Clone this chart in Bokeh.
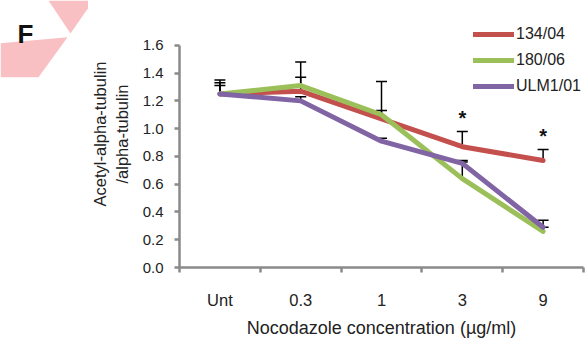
from bokeh.plotting import figure
from bokeh.layouts import row
from bokeh.models import (ColumnDataSource, FixedTicker, Whisker, TeeHead, Legend, LegendItem,
                          Range1d)
from bokeh.core.properties import value
from bokeh.embed import file_html
from bokeh.resources import INLINE

categories = ["Unt", "0.3", "1", "3", "9"]
red_134 = [1.25, 1.27, 1.07, 0.87, 0.77]
green_180 = [1.25, 1.31, 1.10, 0.64, 0.26]
purple_ulm = [1.25, 1.20, 0.91, 0.75, 0.29]
red_err = [0.10, 0.10, 0.27, 0.11, 0.08]
green_err = [0.08, 0.17, 0.03, 0.12, 0.03]
purple_err = [0.06, 0.03, 0.02, 0.02, 0.05]
star_idx = [3, 4]
y_ticks = [0, 0.2, 0.4, 0.6, 0.8, 1.0, 1.2, 1.4, 1.6]

FONT = "Liberation Sans"
RED, GREEN, PURPLE = "#c4504d", "#9bbf59", "#8064a4"
AX = "#8a8a8a"
TXT = "#222222"
PINK = "#f9c0c4"

W, H = 587, 340
SIDE_W = 88            # width of the left strip holding the panel letter
FL, FT, FB = 177, 45, 268  # y-axis x, top tick y, x-axis y on the page

# ---- left strip: panel letter and pieces of the neighbouring panel ----
# its frame is aligned with the main frame (page y 0..FB), so map page pixels onto it
side = figure(width=SIDE_W, height=H, output_backend="svg", toolbar_location=None,
              x_range=Range1d(0, SIDE_W), y_range=Range1d(FB, 0),
              min_border_left=0, min_border_right=0, min_border_top=0, min_border_bottom=H - FB,
              x_axis_location=None, y_axis_location=None)
side.outline_line_color = None
side.grid.visible = False
tri_x, tri_y = [48, 93, 70], [0, 0, 33]
quad_x, quad_y = [0, 67, 38, 0], [43, 37, 77, 77]
side.patches([tri_x, quad_x], [tri_y, quad_y], fill_color=PINK, line_color=None)
side.text([17], [34], text=["F"], text_font=value(FONT), text_font_size="26px",
          text_font_style="bold", text_baseline="alphabetic", text_color="#111111")

# ---- main chart ----
xs = [i + 0.5 for i in range(len(categories))]
y_top = y_ticks[-1] * FB / (FB - FT)   # frame reaches the top edge so the legend is not clipped

p = figure(width=W - SIDE_W, height=H, output_backend="svg", toolbar_location=None,
           x_range=Range1d(0, len(categories)), y_range=Range1d(0, y_top),
           min_border_left=FL - SIDE_W, min_border_right=4, min_border_top=0,
           min_border_bottom=H - FB)
p.outline_line_color = None
p.xgrid.visible = False
p.ygrid.visible = False

series = [("134/04", red_134, red_err, RED),
          ("180/06", green_180, green_err, GREEN),
          ("ULM1/01", purple_ulm, purple_err, PURPLE)]

for name, vals, errs, col in series:
    src = ColumnDataSource(dict(x=xs, lower=vals, upper=[v + e for v, e in zip(vals, errs)]))
    w = Whisker(base="x", upper="upper", lower="lower", source=src, line_color="black",
                line_width=1.5, upper_head=TeeHead(size=11, line_width=1.5, line_color="black"),
                lower_head=None)
    p.add_layout(w)

items = []
for name, vals, errs, col in series:
    r = p.line(xs, vals, line_color=col, line_width=5, line_join="round", line_cap="round")
    items.append(LegendItem(label=name, renderers=[r]))

star_x = [xs[i] for i in star_idx]
star_y = [red_134[i] + red_err[i] for i in star_idx]
p.text(star_x, star_y, text=["*"] * len(star_idx), text_font=value(FONT),
       text_font_size="20px", text_font_style="bold", text_align="center",
       text_baseline="middle", y_offset=-13, text_color="#111111")

legend = Legend(items=items, location=(471 - FL, FB - 97), padding=0, margin=0,
                border_line_color=None, background_fill_alpha=0,
                glyph_width=41, glyph_height=20, label_height=20, spacing=6,
                label_standoff=2, label_text_font=FONT, label_text_font_size="16px",
                label_text_color=TXT)
p.add_layout(legend, "center")

# y axis
p.yaxis.ticker = FixedTicker(ticks=y_ticks)
p.yaxis.bounds = (y_ticks[0], y_ticks[-1])
p.yaxis.major_label_overrides = {t: f"{t:.1f}" for t in y_ticks}
p.yaxis.axis_label = "Acetyl-alpha-tubulin\n/alpha-tubulin"
p.yaxis.minor_tick_line_color = None
p.yaxis.major_tick_line_color = AX
p.yaxis.major_tick_line_width = 2.5
p.yaxis.major_label_standoff = 11
p.yaxis.axis_label_standoff = 9
p.yaxis.major_label_text_font_size = "15px"
p.yaxis.axis_label_text_font_size = "16.5px"

# x axis
p.xaxis.ticker = FixedTicker(ticks=xs, minor_ticks=list(range(len(categories) + 1)))
p.xaxis.major_label_overrides = {x: c for x, c in zip(xs, categories)}
p.xaxis.axis_label = "Nocodazole concentration (µg/ml)"
p.xaxis.major_tick_line_color = None
p.xaxis.minor_tick_in = 0
p.xaxis.minor_tick_out = 5
p.xaxis.minor_tick_line_color = AX
p.xaxis.minor_tick_line_width = 2.5
p.xaxis.major_label_standoff = 18
p.xaxis.axis_label_standoff = 6
p.xaxis.major_label_text_font_size = "16.5px"
p.xaxis.axis_label_text_font_size = "18px"

for ax in (p.xaxis, p.yaxis):
    ax.axis_line_color = AX
    ax.axis_line_width = 2.5
    ax.major_tick_in = 0
    ax.major_tick_out = 5
    ax.major_label_text_font = FONT
    ax.major_label_text_color = TXT
    ax.axis_label_text_font = FONT
    ax.axis_label_text_font_style = "normal"
    ax.axis_label_text_color = TXT

layout = row(side, p, spacing=0)
open("out.html", "w").write(file_html(layout, INLINE))
